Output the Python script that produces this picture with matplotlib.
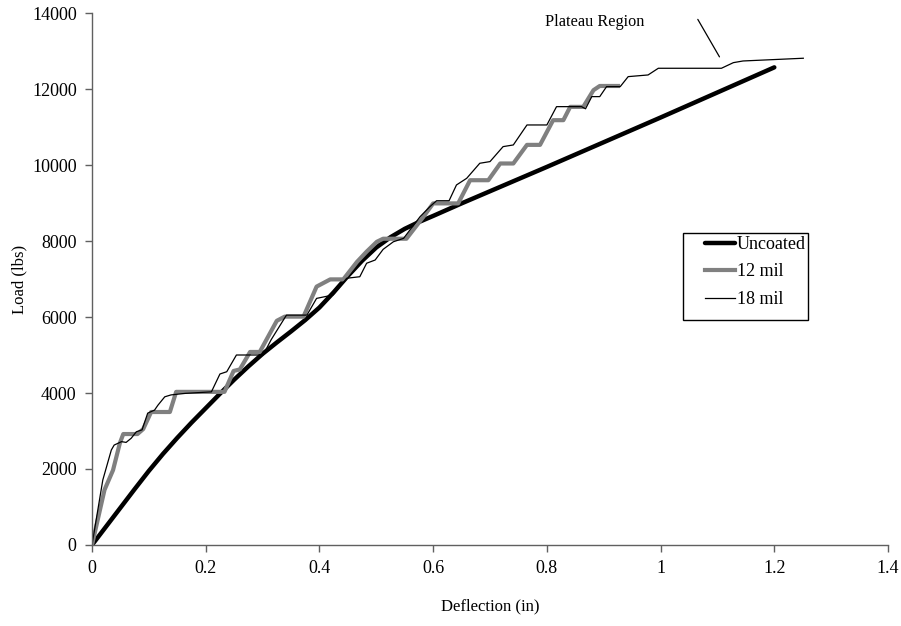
import matplotlib
matplotlib.use('Agg')
import matplotlib.pyplot as plt
from matplotlib.patches import Rectangle

# ---------------------------------------------------------------- data
uncoated_x = [0, 0.025, 0.05, 0.075, 0.1, 0.125, 0.15, 0.175, 0.2, 0.225, 0.25, 0.275,
              0.3, 0.325, 0.35, 0.375, 0.4, 0.425, 0.45, 0.475, 0.5, 0.525, 0.55, 0.575,
              0.6, 0.65, 0.7, 0.8, 1.0, 1.2]
uncoated_y = [0, 490, 980, 1470, 1950, 2400, 2820, 3220, 3600, 3980, 4350, 4700,
              5030, 5330, 5620, 5920, 6250, 6650, 7080, 7480, 7830, 8100, 8320, 8500,
              8660, 8990, 9310, 9950, 11250, 12570]

mil12_x = [0, 0.022, 0.037, 0.049, 0.055, 0.08, 0.09, 0.104, 0.137, 0.148, 0.233, 0.249,
           0.26, 0.278, 0.295, 0.325, 0.339, 0.372, 0.395, 0.419, 0.442, 0.466, 0.483,
           0.501, 0.512, 0.553, 0.583, 0.600, 0.644, 0.665, 0.697, 0.718, 0.741, 0.765,
           0.788, 0.811, 0.829, 0.841, 0.864, 0.882, 0.893, 0.925]
mil12_y = [0, 1450, 1970, 2680, 2920, 2920, 3050, 3500, 3500, 4030, 4030, 4580,
           4620, 5080, 5080, 5900, 6010, 6010, 6800, 6990, 6990, 7450, 7720,
           7980, 8060, 8060, 8640, 8990, 8990, 9600, 9600, 10040, 10040, 10530,
           10530, 11180, 11180, 11530, 11530, 11970, 12080, 12080]

mil18_x = [0, 0.019, 0.034, 0.039, 0.052, 0.06, 0.069, 0.078, 0.088, 0.098, 0.110, 0.116,
           0.128, 0.139, 0.164, 0.21, 0.225, 0.237, 0.254, 0.301, 0.315, 0.342, 0.378,
           0.395, 0.424, 0.448, 0.471, 0.483, 0.498, 0.512, 0.530, 0.548, 0.577, 0.594,
           0.606, 0.628, 0.641, 0.659, 0.682, 0.700, 0.723, 0.741, 0.759, 0.765, 0.800,
           0.817, 0.861, 0.868, 0.879, 0.893, 0.905, 0.929, 0.943, 0.978, 0.996, 1.107,
           1.128, 1.145, 1.251]
mil18_y = [0, 1710, 2500, 2630, 2720, 2700, 2810, 2980, 3030, 3470, 3550, 3680,
           3900, 3950, 3990, 4030, 4500, 4560, 5000, 5000, 5400, 6050, 6050,
           6490, 6580, 7020, 7060, 7415, 7500, 7780, 7980, 8070, 8640, 8900,
           9060, 9060, 9475, 9650, 10046, 10090, 10484, 10528, 10923, 11054, 11054,
           11536, 11536, 11480, 11800, 11800, 12063, 12063, 12326, 12370, 12546, 12546,
           12694, 12738, 12810]

series_labels = ['Uncoated', '12 mil', '18 mil']
x_ticks = [0, 0.2, 0.4, 0.6, 0.8, 1.0, 1.2, 1.4]
x_tick_labels = ['0', '0.2', '0.4', '0.6', '0.8', '1', '1.2', '1.4']
y_ticks = [0, 2000, 4000, 6000, 8000, 10000, 12000, 14000]


# ---------------------------------------------------------------- plot
plt.rcParams['font.family'] = ['Liberation Serif', 'DejaVu Serif']

fig = plt.figure(figsize=(9.01, 6.26), dpi=100)
ax = fig.add_axes([0.1021, 0.1294, 0.8835, 0.8498])

ax.plot(uncoated_x, uncoated_y, color='black', lw=3.2, label=series_labels[0],
        solid_capstyle='round')
ax.plot(mil12_x, mil12_y, color='#808080', lw=3.0, label=series_labels[1])
ax.plot(mil18_x, mil18_y, color='black', lw=0.9, label=series_labels[2])

ax.set_xlim(0, 1.4)
ax.set_ylim(0, 14000)
ax.set_xticks(x_ticks)
ax.set_xticklabels(x_tick_labels)
ax.set_yticks(y_ticks)
ax.tick_params(axis='both', direction='out', length=5, width=1, color='#606060',
               labelsize=13, pad=6)

for side in ['top', 'right']:
    ax.spines[side].set_visible(False)
for side in ['left', 'bottom']:
    ax.spines[side].set_color('#606060')
    ax.spines[side].set_linewidth(1)

ax.set_xlabel('Deflection (in)', fontsize=12, labelpad=15)
ax.set_ylabel('Load (lbs)', fontsize=12, labelpad=3)

# annotation
ax.text(0.797, 13765, 'Plateau Region', fontsize=11.7, ha='left', va='center')
ax.annotate('', xy=(1.106, 12783), xytext=(1.063, 13896),
            arrowprops=dict(arrowstyle='-', color='black', lw=0.9))

# legend: entries without frame, box drawn separately
leg = ax.legend(loc='upper left', bbox_to_anchor=(0.770, 0.581), fontsize=13,
                frameon=False, handlelength=1.65, handletextpad=0.12,
                borderpad=0, labelspacing=0.58, borderaxespad=0)
ax.add_patch(Rectangle((0.742, 0.423), 0.157, 0.163, transform=ax.transAxes,
                       facecolor='white', edgecolor='black', lw=1, zorder=4))
leg.set_zorder(5)

fig.savefig('out.png', dpi=100)
